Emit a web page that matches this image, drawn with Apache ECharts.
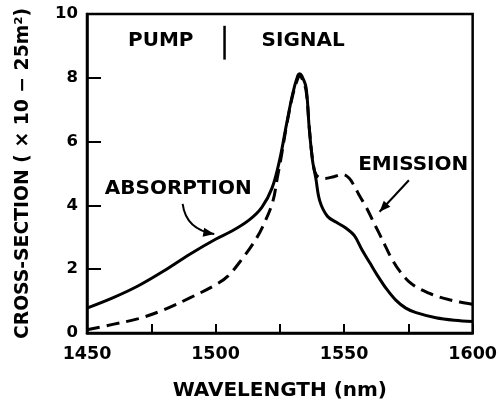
<!DOCTYPE html>
<html>
<head>
<meta charset="utf-8">
<script src="https://cdn.jsdelivr.net/npm/echarts@6/dist/echarts.min.js"></script>
<style>html,body{margin:0;padding:0;background:#fff}#c{width:500px;height:408px}</style>
</head>
<body>
<div id="c"></div>
<script>
// Absorption (solid) : wavelength (nm), cross-section (x1e-25 m2)
const absWl = [1450,1460,1470,1480,1490,1500,1506,1513,1518,1522,1525,1527.5,1530,1532,1532.7,1533.5,1535.2,1536.4,1537.7,1539,1540.5,1543.5,1547,1550.5,1554,1557,1560,1563,1566.5,1570,1574,1578,1585.7,1593,1600];
const absVal = [0.78,1.1,1.48,1.95,2.47,2.94,3.18,3.54,3.94,4.55,5.45,6.5,7.5,8.07,8.13,8.07,7.7,6.46,5.42,4.85,4.15,3.66,3.47,3.3,3.05,2.6,2.2,1.8,1.38,1.04,0.78,0.64,0.48,0.4,0.36];
// Emission (dashed)
const emiWl = [1450,1460,1470,1480,1490,1500,1505,1510.6,1515,1518.3,1522.2,1524.1,1525.5,1527.5,1530,1532,1532.8,1533.6,1535.2,1536.5,1537.8,1539.2,1542.2,1546,1549.5,1552,1554,1556,1558.5,1561,1563.6,1566.2,1568.8,1572,1575.2,1579,1583,1587,1591,1595,1600];
const emiVal = [0.1,0.27,0.45,0.73,1.1,1.51,1.8,2.35,2.85,3.33,4.1,4.9,5.5,6.45,7.45,7.98,8.05,7.98,7.6,6.4,5.4,4.95,4.84,4.9,4.97,4.85,4.6,4.3,3.96,3.55,3.13,2.7,2.29,1.9,1.61,1.4,1.25,1.13,1.04,0.97,0.9];
// Axis ticks
const xTickLabels = [1450,1500,1550,1600];
const yTickLabels = [0,2,4,6,8,10];
// Annotations (data coordinates)
const annTexts = [
  {text:'PUMP', at:[1478.7,9.17]},
  {text:'SIGNAL', at:[1534.1,9.17]},
  {text:'ABSORPTION', at:[1485.5,4.51]},
  {text:'EMISSION', at:[1576.9,5.26]}
];
const dividerLine = [[1503.5,9.63],[1503.5,8.57]];
const absArrow = {from:[1487.2,4.05], ctrl:[1488.5,3.25], to:[1499.5,3.1]};
const emiArrow = {from:[1575.2,4.79], to:[1563.8,3.8]};

const FONT = 'DejaVu Sans';
const chart = echarts.init(document.getElementById('c'), null, {renderer:'canvas'});
const zip = (a,b)=>a.map((v,i)=>[v,b[i]]);
chart.setOption({
  animation:false,
  backgroundColor:'#fff',
  grid:{left:87,right:26,top:14,bottom:75,show:true,borderColor:'#000',borderWidth:2.5},
  xAxis:{
    type:'value',min:1450,max:1600,interval:25,
    name:'WAVELENGTH (nm)',nameLocation:'middle',nameGap:48,
    nameTextStyle:{fontFamily:FONT,fontWeight:'bold',fontSize:20,color:'#000'},
    axisLine:{lineStyle:{color:'#000',width:2.5}},
    axisTick:{inside:true,length:9,lineStyle:{color:'#000',width:2}},
    axisLabel:{margin:12,fontFamily:FONT,fontWeight:'bold',fontSize:17.5,color:'#000',
      formatter:v=>xTickLabels.includes(v)?String(v):''},
    splitLine:{show:false}
  },
  yAxis:{
    type:'value',min:0,max:10,interval:2,
    name:'CROSS-SECTION ( × 10 − 25m²)',nameLocation:'middle',nameGap:54,
    nameTextStyle:{fontFamily:FONT,fontWeight:'bold',fontSize:18.8,color:'#000'},
    axisLine:{lineStyle:{color:'#000',width:2.5}},
    axisTick:{inside:true,length:14,lineStyle:{color:'#000',width:2}},
    axisLabel:{margin:9,fontFamily:FONT,fontWeight:'bold',fontSize:16.5,color:'#000',
      formatter:v=>yTickLabels.includes(v)?String(v):''},
    splitLine:{show:false}
  },
  series:[
    {type:'line',data:zip(absWl,absVal),showSymbol:false,smooth:0.35,
      lineStyle:{color:'#000',width:3}},
    {type:'line',data:zip(emiWl,emiVal),showSymbol:false,smooth:0.35,
      lineStyle:{color:'#000',width:3,type:[13,7]}}
  ]
});

function px(p){return chart.convertToPixel({gridIndex:0},p);}
function head(tip, from, len, w){
  const dx=tip[0]-from[0], dy=tip[1]-from[1], L=Math.hypot(dx,dy);
  const ux=dx/L, uy=dy/L, bx=tip[0]-ux*len, by=tip[1]-uy*len;
  return [[tip[0],tip[1]],[bx-uy*w,by+ux*w],[bx+uy*w,by-ux*w]];
}
const g=[];
annTexts.forEach(a=>{
  const p=px(a.at);
  g.push({type:'text',x:p[0],y:p[1],style:{text:a.text,fill:'#000',font:'bold 20px "'+FONT+'"',textAlign:'center',textVerticalAlign:'middle'}});
});
const d0=px(dividerLine[0]), d1=px(dividerLine[1]);
g.push({type:'line',shape:{x1:d0[0],y1:d0[1],x2:d1[0],y2:d1[1]},style:{stroke:'#000',lineWidth:2.5}});
const a0=px(absArrow.from), ac=px(absArrow.ctrl), a1=px(absArrow.to);
g.push({type:'bezierCurve',shape:{x1:a0[0],y1:a0[1],cpx1:ac[0],cpy1:ac[1],x2:a1[0],y2:a1[1]},style:{stroke:'#000',lineWidth:2,fill:null}});
g.push({type:'polygon',shape:{points:head(a1,ac,11,4.5)},style:{fill:'#000'}});
const e0=px(emiArrow.from), e1=px(emiArrow.to);
g.push({type:'line',shape:{x1:e0[0],y1:e0[1],x2:e1[0],y2:e1[1]},style:{stroke:'#000',lineWidth:2}});
g.push({type:'polygon',shape:{points:head(e1,e0,11,4.5)},style:{fill:'#000'}});
chart.setOption({graphic:g});
</script>
</body>
</html>
